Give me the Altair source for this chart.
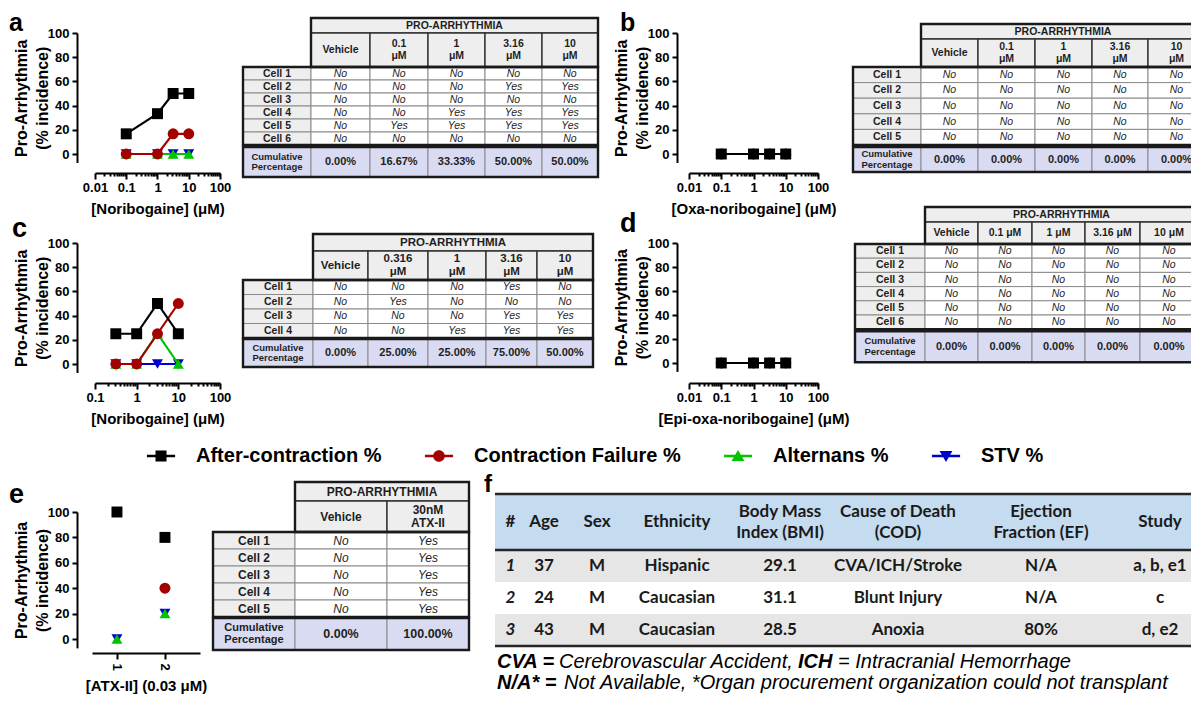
import altair as alt
import pandas as pd
from math import log10

W, H, M = 1183, 686, 8
FONT = "Liberation Sans"
FFONT = "Lato"

# ---------------- data ----------------
SERIES = ["After-contraction %", "Contraction Failure %", "Alternans %", "STV %"]
COLORS = ["#000000", "#a30000", "#00c400", "#0000cc"]
SHAPES = ["square", "circle", "triangle-up", "triangle-down"]

a_conc = [0.1, 1, 3.16, 10]
a_after = [16.67, 33.33, 50, 50]
a_fail = [0, 0, 16.67, 16.67]
a_altern = [0, 0, 0, 0]
a_stv = [0, 0, 0, 0]

b_conc = [0.1, 1, 3.16, 10]
b_after = [0, 0, 0, 0]
b_fail = [0, 0, 0, 0]
b_altern = [0, 0, 0, 0]
b_stv = [0, 0, 0, 0]

c_conc = [0.316, 1, 3.16, 10]
c_after = [25, 25, 50, 25]
c_fail = [0, 0, 25, 50]
c_altern = [0, 0, 25, 0]
c_stv = [0, 0, 0, 0]

d_conc = [0.1, 1, 3.16, 10]
d_after = [0, 0, 0, 0]
d_fail = [0, 0, 0, 0]
d_altern = [0, 0, 0, 0]
d_stv = [0, 0, 0, 0]

e_donor = [1, 2]
e_after = [100, 80]
e_fail = [None, 40]
e_altern = [0, 20]
e_stv = [0, 20]

ta_cols = ["Vehicle", "0.1\nμM", "1\nμM", "3.16\nμM", "10\nμM"]
ta_rows = ["Cell 1", "Cell 2", "Cell 3", "Cell 4", "Cell 5", "Cell 6"]
ta_vals = [["No", "No", "No", "No", "No"],
           ["No", "No", "No", "Yes", "Yes"],
           ["No", "No", "No", "No", "No"],
           ["No", "No", "Yes", "Yes", "Yes"],
           ["No", "Yes", "Yes", "Yes", "Yes"],
           ["No", "No", "No", "No", "No"]]
ta_cum = ["0.00%", "16.67%", "33.33%", "50.00%", "50.00%"]

tb_cols = ["Vehicle", "0.1\nμM", "1\nμM", "3.16\nμM", "10\nμM"]
tb_rows = ["Cell 1", "Cell 2", "Cell 3", "Cell 4", "Cell 5"]
tb_vals = [["No", "No", "No", "No", "No"]] * 5
tb_cum = ["0.00%", "0.00%", "0.00%", "0.00%", "0.00%"]

tc_cols = ["Vehicle", "0.316\nμM", "1\nμM", "3.16\nμM", "10\nμM"]
tc_rows = ["Cell 1", "Cell 2", "Cell 3", "Cell 4"]
tc_vals = [["No", "No", "No", "Yes", "No"],
           ["No", "Yes", "No", "No", "No"],
           ["No", "No", "No", "Yes", "Yes"],
           ["No", "No", "Yes", "Yes", "Yes"]]
tc_cum = ["0.00%", "25.00%", "25.00%", "75.00%", "50.00%"]

td_cols = ["Vehicle", "0.1 μM", "1 μM", "3.16 μM", "10 μM"]
td_rows = ["Cell 1", "Cell 2", "Cell 3", "Cell 4", "Cell 5", "Cell 6"]
td_vals = [["No", "No", "No", "No", "No"]] * 6
td_cum = ["0.00%", "0.00%", "0.00%", "0.00%", "0.00%"]

te_cols = ["Vehicle", "30nM\nATX-II"]
te_rows = ["Cell 1", "Cell 2", "Cell 3", "Cell 4", "Cell 5"]
te_vals = [["No", "Yes"]] * 5
te_cum = ["0.00%", "100.00%"]

f_header = ["#", "Age", "Sex", "Ethnicity", "Body Mass\nIndex (BMI)",
            "Cause of Death\n(COD)", "Ejection\nFraction (EF)", "Study"]
f_rows = [["1", "37", "M", "Hispanic", "29.1", "CVA/ICH/Stroke", "N/A", "a, b, e1"],
          ["2", "24", "M", "Caucasian", "31.1", "Blunt Injury", "N/A", "c"],
          ["3", "43", "M", "Caucasian", "28.5", "Anoxia", "80%", "d, e2"]]


def P(v):
    return v - M


CSCALE = alt.Scale(domain=SERIES, range=COLORS)
SSCALE = alt.Scale(domain=SERIES, range=SHAPES)

# legend symbols: GraphPad style marker with a line through it
BAR = "M-2.3,-0.22H2.3V0.22H-2.3Z"
LEG_PATHS = [
    "M-0.9,-0.9H0.9V0.9H-0.9Z" + BAR,
    "M0.95,0A0.95,0.95 0 1 1 -0.95,0A0.95,0.95 0 1 1 0.95,0Z" + BAR,
    "M0,-1L1.05,0.8L-1.05,0.8Z" + BAR,
    "M-1.05,-0.8H1.05L0,1Z" + BAR,
]
LEG = alt.Legend(title=None, orient="none", legendX=P(151), legendY=P(446),
                 direction="horizontal", labelFont=FONT, labelFontSize=20,
                 labelFontWeight="bold", labelColor="black", symbolSize=150,
                 symbolStrokeWidth=0, labelOffset=25, columnPadding=42,
                 labelLimit=0, padding=0)


def dose_panel(x_vals, series_vals, xdom, xr, yx, ytop, yzero, xaxis_y, xtitle,
               log=True, lines=True):
    recs = []
    for name, vals in zip(SERIES, series_vals):
        for xv, yv in zip(x_vals, vals):
            if yv is not None:
                recs.append({"x": xv, "pct": yv, "series": name})
    df = pd.DataFrame(recs)
    unit = (yzero - ytop) / 100.0
    ys = alt.Scale(domain=[-7, 100], range=[P(yzero + 7 * unit), P(ytop)],
                   nice=False, zero=False)
    common = dict(grid=False, domainColor="black", domainWidth=2, tickColor="black",
                  tickWidth=2, labelFont=FONT, labelFontSize=13, labelFontWeight="bold",
                  labelColor="black", titleFont=FONT, titleFontWeight="bold",
                  titleColor="black", labelOverlap=False)
    yax = alt.Axis(orient="left", offset=-P(yx), values=[0, 20, 40, 60, 80, 100],
                   title=["Pro-Arrhythmia", "(% incidence)"], tickSize=5, labelPadding=3,
                   titleFontSize=16, titlePadding=-3, titleLineHeight=21, **common)
    if log:
        lo, hi = round(log10(xdom[0])), round(log10(xdom[1]))
        majors = [10.0 ** k for k in range(lo, hi + 1)]
        minors = [m * 10.0 ** k for k in range(lo, hi) for m in range(2, 10)]
        test = "abs(log(datum.value)/LN10 - round(log(datum.value)/LN10)) < 0.001"
        xs = alt.Scale(type="log", domain=xdom, range=[P(xr[0]), P(xr[1])], nice=False)
        xax = alt.Axis(orient="bottom", offset=P(xaxis_y) - H, values=majors + minors,
                       labelExpr=f"{test} ? format(datum.value, '~g') : ''",
                       tickSize={"condition": {"test": test, "value": 6}, "value": 3},
                       labelPadding=2, labelFlush=False, title=xtitle,
                       titleFontSize=15, titlePadding=7, **common)
    else:
        xs = alt.Scale(domain=xdom, range=[P(xr[0]), P(xr[1])], nice=False, zero=False)
        xax = alt.Axis(orient="bottom", offset=P(xaxis_y) - H, values=x_vals,
                       labelAngle=90, format="d", tickSize=6, labelPadding=4,
                       labelFlush=False, title=xtitle, titleFontSize=15,
                       titlePadding=8, **common)
    layers = []
    for name in reversed(SERIES):
        sub = alt.Chart(df).transform_filter(alt.datum.series == name)
        enc = dict(x=alt.X("x:Q", scale=xs, axis=xax),
                   y=alt.Y("pct:Q", scale=ys, axis=yax),
                   color=alt.Color("series:N", scale=CSCALE, legend=None))
        if lines:
            layers.append(sub.mark_line(strokeWidth=2.2).encode(**enc))
        layers.append(sub.mark_point(filled=True, size=120, opacity=1).encode(
            shape=alt.Shape("series:N", scale=SSCALE, legend=None), **enc))
    return alt.layer(*layers)


GRAY, WHITE, LAV = "#eeeeee", "#ffffff", "#d8dbf2"


def dose_table(cols, rows, vals, cum, x_left, y_top, col_w, h_pro, h_hdr, h_cell,
               h_cum, fs=10.5, hfs=None, gap=2):
    hfs = hfs or fs
    styles = {"hdr": (hfs, "bold", "normal"), "lbl": (fs, "bold", "normal"),
              "yn": (fs, "normal", "italic"), "cuml": (fs - 1, "bold", "normal"),
              "cumv": (fs + 0.5, "bold", "normal")}
    xe = [0.0]
    for w in col_w:
        xe.append(xe[-1] + w)
    cells = []

    def add(x0, x1, y0, y1, t, st, fill, grp):
        lh = styles[st][0] * 1.15
        nl = t.count("\n") + 1
        cells.append(dict(x0=x0, x1=x1, y0=y0, y1=y1, xm=(x0 + x1) / 2,
                          ym=(y0 + y1) / 2 - (nl - 1) * lh / 2, t=t, st=st,
                          fill=fill, grp=grp))

    add(xe[1], xe[-1], 0, h_pro, "PRO-ARRHYTHMIA", "hdr", GRAY, "head")
    y = h_pro
    for j, c in enumerate(cols):
        add(xe[j + 1], xe[j + 2], y, y + h_hdr, c, "hdr", GRAY, "head")
    y += h_hdr
    body_top = y
    for i, r in enumerate(rows):
        add(xe[0], xe[1], y, y + h_cell, r, "lbl", GRAY, "body")
        for j, v in enumerate(vals[i]):
            add(xe[j + 1], xe[j + 2], y, y + h_cell, v, "yn", WHITE, "body")
        y += h_cell
    body_bot = y
    y += gap
    cum_top = y
    add(xe[0], xe[1], y, y + h_cum, "Cumulative\nPercentage", "cuml", LAV, "cum")
    for j, v in enumerate(cum):
        add(xe[j + 1], xe[j + 2], y, y + h_cum, v, "cumv", LAV, "cum")
    y += h_cum
    df = pd.DataFrame(cells)
    blocks = pd.DataFrame([dict(x0=xe[1], x1=xe[-1], y0=0, y1=body_top),
                           dict(x0=0, x1=xe[-1], y0=body_top, y1=body_bot),
                           dict(x0=0, x1=xe[-1], y0=cum_top, y1=y)])
    xs = alt.Scale(domain=[0, xe[-1]], range=[P(x_left), P(x_left + xe[-1])],
                   nice=False, zero=False)
    ys = alt.Scale(domain=[0, y], range=[P(y_top), P(y_top + y)], nice=False, zero=False)
    renc = dict(x=alt.X("x0:Q", scale=xs, axis=None), x2="x1:Q",
                y=alt.Y("y0:Q", scale=ys, axis=None), y2="y1:Q")
    tenc = dict(x=alt.X("xm:Q", scale=xs, axis=None),
                y=alt.Y("ym:Q", scale=ys, axis=None), text="t:N")
    layers = [
        alt.Chart(df).transform_filter(alt.datum.grp != "head").mark_rect(
            stroke="#8a8a8a", strokeWidth=1).encode(fill=alt.Fill("fill:N", scale=None), **renc),
        alt.Chart(df).transform_filter(alt.datum.grp == "head").mark_rect(
            stroke="#333333", strokeWidth=1.4).encode(fill=alt.Fill("fill:N", scale=None), **renc),
    ]
    for st, (size, wt, sty) in styles.items():
        layers.append(alt.Chart(df).transform_filter(alt.datum.st == st).mark_text(
            font=FONT, fontSize=size, fontWeight=wt, fontStyle=sty, color="#1e1e1e",
            lineBreak="\n", lineHeight=size * 1.15, baseline="middle").encode(**tenc))
    layers.append(alt.Chart(blocks).mark_rect(fill="white", fillOpacity=0, stroke="#1a1a1a",
                                              strokeWidth=2.4).encode(**renc))
    return alt.layer(*layers)


def donor_table(x_left, y_top, col_w, h_head, h_row):
    lh = 21
    xe = [0.0]
    for w in col_w:
        xe.append(xe[-1] + w)
    fills = ["#e6e6e6", "#ffffff", "#e6e6e6"]
    bands = [dict(x0=0, x1=xe[-1], y0=0, y1=h_head, fill="#c4dbf0")]
    texts = []
    for j, h in enumerate(f_header):
        nl = h.count("\n") + 1
        texts.append(dict(xm=(xe[j] + xe[j + 1]) / 2, ym=h_head / 2 - (nl - 1) * lh / 2,
                          t=h, st="head"))
    y = h_head
    for i, row in enumerate(f_rows):
        bands.append(dict(x0=0, x1=xe[-1], y0=y, y1=y + h_row, fill=fills[i]))
        for j, v in enumerate(row):
            texts.append(dict(xm=(xe[j] + xe[j + 1]) / 2, ym=y + h_row / 2, t=v,
                              st="num" if j == 0 else "body"))
        y += h_row
    bdf = pd.DataFrame(bands)
    tdf = pd.DataFrame(texts)
    rules = pd.DataFrame([dict(x0=0, x1=xe[-1], y=0), dict(x0=0, x1=xe[-1], y=h_head),
                          dict(x0=0, x1=xe[-1], y=y)])
    xs = alt.Scale(domain=[0, xe[-1]], range=[P(x_left), P(x_left + xe[-1])],
                   nice=False, zero=False)
    ys = alt.Scale(domain=[0, y], range=[P(y_top), P(y_top + y)], nice=False, zero=False)
    layers = [
        alt.Chart(bdf).mark_rect().encode(
            x=alt.X("x0:Q", scale=xs, axis=None), x2="x1:Q",
            y=alt.Y("y0:Q", scale=ys, axis=None), y2="y1:Q",
            fill=alt.Fill("fill:N", scale=None)),
        alt.Chart(rules).mark_rule(color="#262626", strokeWidth=2.5).encode(
            x=alt.X("x0:Q", scale=xs, axis=None), x2="x1:Q",
            y=alt.Y("y:Q", scale=ys, axis=None)),
    ]
    styles = {"head": ("bold", "normal"), "body": ("bold", "normal"), "num": ("bold", "italic")}
    for st, (wt, sty) in styles.items():
        layers.append(alt.Chart(tdf).transform_filter(alt.datum.st == st).mark_text(
            font=FFONT, fontSize=17, fontWeight=wt, fontStyle=sty, color="#1a1a1a",
            lineBreak="\n", lineHeight=lh, baseline="middle").encode(
            x=alt.X("xm:Q", scale=xs, axis=None), y=alt.Y("ym:Q", scale=ys, axis=None),
            text="t:N"))
    return alt.layer(*layers)


def legend_layer():
    return alt.Chart(pd.DataFrame({"series": SERIES})).mark_point(
        filled=True, size=150, opacity=1).encode(
        x=alt.value(-60), y=alt.value(-60),
        color=alt.Color("series:N", scale=CSCALE, legend=LEG),
        shape=alt.Shape("series:N", scale=alt.Scale(domain=SERIES, range=LEG_PATHS),
                        legend=LEG))


def label(txt, x, y, size, weight="bold", style="normal", font=FONT):
    return alt.Chart(pd.DataFrame({"t": [txt]})).mark_text(
        font=font, fontSize=size, fontWeight=weight, fontStyle=style, align="left",
        baseline="alphabetic", color="black").encode(
        text="t:N", x=alt.value(P(x)), y=alt.value(P(y)))


layers = [
    dose_table(ta_cols, ta_rows, ta_vals, ta_cum, 243, 18, [68, 59, 58, 57, 57, 56],
               15, 34, 13, 30),
    dose_table(tb_cols, tb_rows, tb_vals, tb_cum, 853, 24, [68, 57, 57, 57, 56, 57],
               15, 28, 15.6, 25),
    dose_table(tc_cols, tc_rows, tc_vals, tc_cum, 243, 234, [70, 55, 60, 58, 51, 56],
               17, 29, 14.5, 28, hfs=11.5, gap=1),
    dose_table(td_cols, td_rows, td_vals, td_cum, 855, 207, [70, 53, 54, 53, 55, 58],
               15, 22, 14.2, 31),
    dose_table(te_cols, te_rows, te_vals, te_cum, 213, 482, [82, 92, 82],
               19, 31, 17, 32, fs=12, gap=1),
    donor_table(495, 494, [31, 36, 70, 90, 116, 120, 166, 72], 56, 32),
    dose_panel(a_conc, [a_after, a_fail, a_altern, a_stv], [0.01, 100], (95, 220),
               77, 33, 154, 173, "[Noribogaine] (μM)"),
    dose_panel(b_conc, [b_after, b_fail, b_altern, b_stv], [0.01, 100], (689, 818),
               677, 33, 154, 173, "[Oxa-noribogaine] (μM)"),
    dose_panel(c_conc, [c_after, c_fail, c_altern, c_stv], [0.1, 100], (95, 220),
               77, 243, 364, 383, "[Noribogaine] (μM)"),
    dose_panel(d_conc, [d_after, d_fail, d_altern, d_stv], [0.01, 100], (689, 818),
               677, 243, 363, 383, "[Epi-oxa-noribogaine] (μM)"),
    dose_panel(e_donor, [e_after, e_fail, e_altern, e_stv], [0.48, 2.73], (92, 200),
               77, 512, 639, 653, "[ATX-II] (0.03 μM)", log=False, lines=False),
    legend_layer(),
    label("a", 9, 31, 25), label("b", 620, 31, 25), label("c", 12, 237, 27),
    label("d", 620, 232, 27), label("e", 9, 503, 27), label("f", 484, 492, 24),
    label("CVA =", 497, 668, 20, "bold", "italic"),
    label("Cerebrovascular Accident,", 559, 668, 20, "normal", "italic"),
    label("ICH", 798, 668, 20, "bold", "italic"),
    label("= Intracranial Hemorrhage", 838, 668, 20, "normal", "italic"),
    label("N/A* =", 497, 689, 20, "bold", "italic"),
    label("Not Available, *Organ procurement organization could not transplant",
          564, 689, 20, "normal", "italic"),
]

chart = alt.layer(*layers).resolve_scale(
    x="independent", y="independent", color="independent", shape="independent"
).resolve_axis(x="independent", y="independent").properties(
    width=W, height=H, padding=0,
    autosize=alt.AutoSizeParams(type="none")).configure_view(stroke=None)

chart.save("out.html", embed_options={"renderer": "svg", "actions": False})
